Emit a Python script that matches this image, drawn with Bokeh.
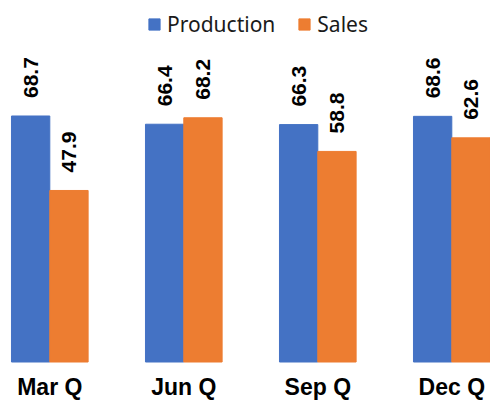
from bokeh.plotting import figure
from bokeh.models import Range1d, ColumnDataSource, Legend, LegendItem, LabelSet
from bokeh.core.properties import value
from bokeh.embed import file_html
from bokeh.resources import INLINE
import math

categories = ["Mar Q", "Jun Q", "Sep Q", "Dec Q"]
production = [68.7, 66.4, 66.3, 68.6]
sales = [47.9, 68.2, 58.8, 62.6]

W, H = 490, 402
PX_PER_CAT = 134.0
PX_PER_UNIT = 3.581
FIRST_CENTER_PX = 49.3
ZERO_PX = 361.5

xs = list(range(len(categories)))
bw = 0.286
x_start = -FIRST_CENTER_PX / PX_PER_CAT
x_range = Range1d(x_start, x_start + W / PX_PER_CAT)
y_range = Range1d(-(H - ZERO_PX) / PX_PER_UNIT, ZERO_PX / PX_PER_UNIT)

p = figure(width=W, height=H, x_range=x_range, y_range=y_range,
           output_backend="svg", toolbar_location=None,
           min_border_left=0, min_border_right=0, min_border_top=0, min_border_bottom=0)
p.outline_line_color = None
p.xgrid.visible = False
p.ygrid.visible = False
p.xaxis.visible = False
p.yaxis.visible = False

src_p = ColumnDataSource(dict(x=[x - bw / 2 for x in xs], v=production, t=[f"{v:.1f}" for v in production]))
src_s = ColumnDataSource(dict(x=[x + bw / 2 for x in xs], v=sales, t=[f"{v:.1f}" for v in sales]))

r1 = p.vbar(x="x", top="v", width=bw, source=src_p, fill_color="#4472C4", line_color="#4472C4")
r2 = p.vbar(x="x", top="v", width=bw, source=src_s, fill_color="#ED7D31", line_color="#ED7D31")

for src in (src_p, src_s):
    lab = LabelSet(x="x", y="v", text="t", source=src, angle=math.pi / 2,
                   text_align="left", text_baseline="middle", y_offset=18,
                   text_font=value("Liberation Sans"), text_font_style="bold",
                   text_font_size="21px", text_color="#000000")
    p.add_layout(lab)

# category labels under the bars (drawn through the data scales)
label_y = -(386 - ZERO_PX) / PX_PER_UNIT
cat_src = ColumnDataSource(dict(x=xs, y=[label_y] * len(xs), t=categories))
p.text(x="x", y="y", text="t", source=cat_src, text_align="center",
       text_baseline="middle", text_font=value("Liberation Sans"),
       text_font_style="bold", text_font_size="23px", text_color="#000000")

legend = Legend(items=[LegendItem(label="Production", renderers=[r1]),
                       LegendItem(label="Sales", renderers=[r2])],
                orientation="horizontal", location=(147, 364),
                glyph_width=14, glyph_height=14, label_standoff=6, spacing=22,
                padding=0, margin=0, border_line_color=None, background_fill_alpha=0,
                label_text_font="Noto Sans", label_text_font_size="21px",
                label_text_color="#1a1a1a")
p.add_layout(legend)

open("out.html", "w").write(file_html(p, INLINE))
